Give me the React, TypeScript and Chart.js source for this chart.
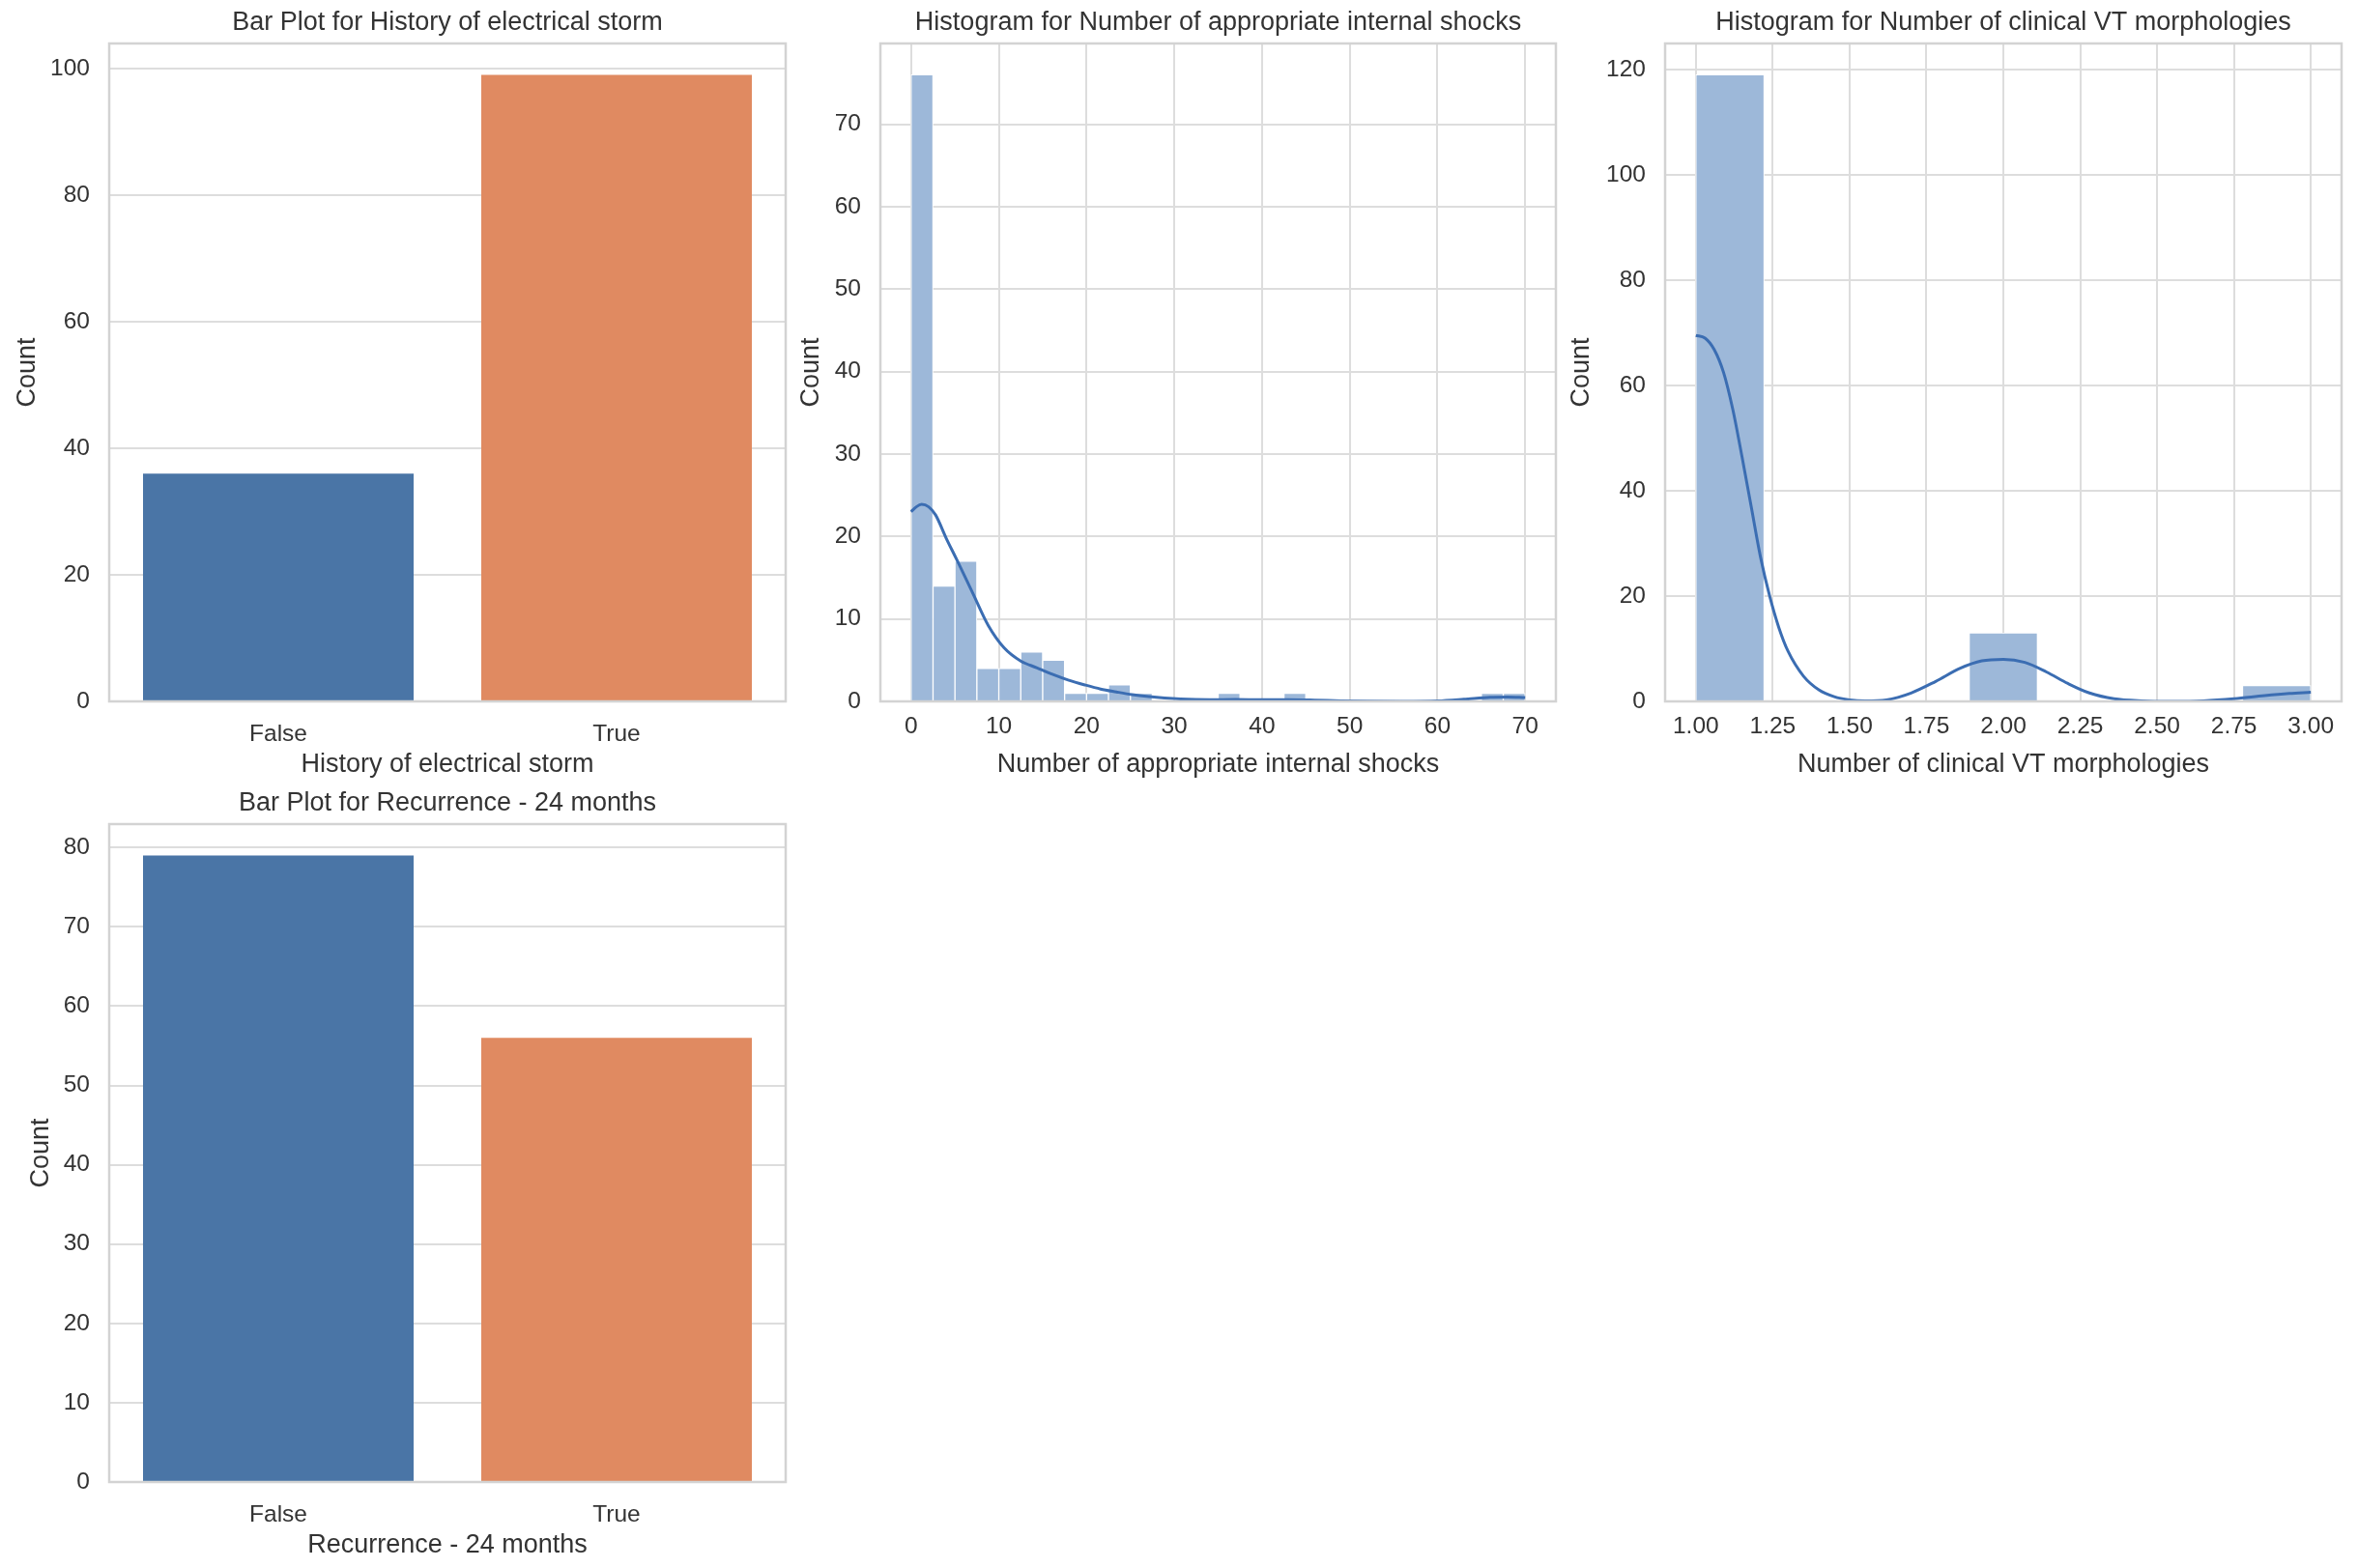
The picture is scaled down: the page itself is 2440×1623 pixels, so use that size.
import { useEffect, useRef } from "react";
import { Chart, registerables } from "chart.js";

Chart.register(...registerables);

// ---------- data ----------

// Bar plot: History of electrical storm
const stormLabels = ["False", "True"];
const stormCounts = [36, 99];
const stormYTicks = [0, 20, 40, 60, 80, 100];

// Bar plot: Recurrence - 24 months
const recurrenceLabels = ["False", "True"];
const recurrenceCounts = [79, 56];
const recurrenceYTicks = [0, 10, 20, 30, 40, 50, 60, 70, 80];

// Histogram: Number of appropriate internal shocks (bins of width 2.5)
const shockBinCenters = [
  1.25, 3.75, 6.25, 8.75, 11.25, 13.75, 16.25, 18.75, 21.25, 23.75, 26.25, 28.75, 31.25, 33.75,
  36.25, 38.75, 41.25, 43.75, 46.25, 48.75, 51.25, 53.75, 56.25, 58.75, 61.25, 63.75, 66.25, 68.75,
];
const shockCounts = [76, 14, 17, 4, 4, 6, 5, 1, 1, 2, 1, 0, 0, 0, 1, 0, 0, 1, 0, 0, 0, 0, 0, 0, 0, 0, 1, 1];
const shockKdeX = [
  0, 0.6, 1.2, 2.0, 2.8, 4.0, 5.2, 7.0, 8.8, 10.6, 12.5, 14.3, 16.1, 17.9, 19.8, 21.6, 23.4, 25.2,
  27.1, 28.9, 30.7, 34.0, 37.0, 40.0, 43.0, 46.0, 49.0, 52.0, 56.0, 60.0, 63.0, 66.0, 68.0, 70.0,
];
const shockKdeY = [
  23.0, 23.6, 23.9, 23.6, 22.6, 19.8, 17.2, 13.2, 9.2, 6.5, 4.9, 4.1, 3.3, 2.6, 2.0, 1.5, 1.15, 0.83,
  0.58, 0.4, 0.28, 0.2, 0.22, 0.2, 0.2, 0.15, 0.07, 0.02, 0.0, 0.05, 0.25, 0.5, 0.53, 0.47,
];
const shockXTicks = [0, 10, 20, 30, 40, 50, 60, 70];
const shockYTicks = [0, 10, 20, 30, 40, 50, 60, 70];
const shockXRange = [-3.5, 73.5];

// Histogram: Number of clinical VT morphologies (9 bins between 1 and 3)
const vtBinCenters = [1.1111, 1.3333, 1.5556, 1.7778, 2.0, 2.2222, 2.4444, 2.6667, 2.8889];
const vtCounts = [119, 0, 0, 0, 13, 0, 0, 0, 3];
const vtKdeX = [
  1.0, 1.03, 1.06, 1.09, 1.12, 1.15, 1.18, 1.21, 1.24, 1.27, 1.3, 1.35, 1.4, 1.45, 1.5, 1.55, 1.62,
  1.7, 1.78, 1.86, 1.93, 2.0, 2.07, 2.14, 2.21, 2.28, 2.36, 2.45, 2.55, 2.65, 2.75, 2.85, 2.93, 3.0,
];
const vtKdeY = [
  69.5, 69.0, 66.8, 62.5, 55.5, 46.5, 37.0, 27.5, 20.0, 14.0, 9.5, 4.8, 2.2, 0.9, 0.3, 0.1, 0.3,
  1.6, 3.8, 6.3, 7.7, 8.0, 7.4, 5.6, 3.4, 1.6, 0.5, 0.1, 0.0, 0.1, 0.5, 1.1, 1.5, 1.75,
];
const vtXTicks = [1.0, 1.25, 1.5, 1.75, 2.0, 2.25, 2.5, 2.75, 3.0];
const vtYTicks = [0, 20, 40, 60, 80, 100, 120];
const vtXRange = [0.9, 3.1];

// ---------- styling ----------

const FONT = '"Liberation Sans", Arial, "DejaVu Sans", sans-serif';
const TEXT = "#333333";
const GRID = "#dddddd";
const FRAME = "#d3d3d3";
const BAR_BLUE = "#4a75a6";
const BAR_ORANGE = "#e08a61";
const HIST_FILL = "rgb(157,184,217)";
const KDE_LINE = "#3b6db2";

const TITLE_SIZE = 27;
const TICK_SIZE = 24.5;
const LINE_HEIGHT = 1.2;

// Canvas placement and plot-frame rectangle [left, top, right, bottom] in page pixels
type Layout = {
  left: number;
  top: number;
  width: number;
  height: number;
  frame: [number, number, number, number];
  yTitleX: number;
};

const LAYOUT: Record<string, Layout> = {
  storm: { left: 0, top: 0, width: 830, height: 820, frame: [113, 45, 813, 726], yTitleX: 29 },
  shocks: { left: 820, top: 0, width: 810, height: 820, frame: [911, 45, 1610, 726], yTitleX: 840 },
  vt: { left: 1620, top: 0, width: 820, height: 820, frame: [1723, 45, 2423, 726], yTitleX: 1637 },
  recurrence: { left: 0, top: 808, width: 830, height: 815, frame: [113, 853, 813, 1534], yTitleX: 42.5 },
};

// distances of text centres from the plot frame
const TITLE_ABOVE_FRAME = 21;
const XTICK_BELOW_FRAME = 26;
const XTITLE_BELOW_FRAME = 66;
const YTICK_PAD = 20;

const framePlugin = {
  id: "axesFrame",
  afterDatasetsDraw(chart: any) {
    const { ctx, chartArea: a } = chart;
    ctx.save();
    ctx.strokeStyle = FRAME;
    ctx.lineWidth = 2.5;
    ctx.strokeRect(a.left, a.top, a.right - a.left, a.bottom - a.top);
    ctx.restore();
  },
};

const tickFont = { family: FONT, size: TICK_SIZE, lineHeight: LINE_HEIGHT };
const labelFont = { family: FONT, size: TITLE_SIZE, weight: "normal" as const, lineHeight: LINE_HEIGHT };

function commonOptions(L: Layout, title: string) {
  const [, ft, fr] = L.frame;
  const titleBlock = ft - L.top;
  const padTop = ft - TITLE_ABOVE_FRAME - L.top - (TITLE_SIZE * LINE_HEIGHT) / 2;
  return {
    responsive: false,
    animation: false as const,
    events: [] as any[],
    layout: { padding: { left: 0, top: 0, right: L.left + L.width - fr, bottom: 0 } },
    plugins: {
      legend: { display: false },
      tooltip: { enabled: false },
      title: {
        display: true,
        text: title,
        fullSize: false,
        color: TEXT,
        font: labelFont,
        padding: { top: padTop, bottom: titleBlock - padTop - TITLE_SIZE * LINE_HEIGHT },
      },
    },
  };
}

function xAxis(L: Layout, text: string, extra: any) {
  const fb = L.frame[3];
  const height = L.top + L.height - fb;
  return {
    title: {
      display: true,
      text,
      color: TEXT,
      font: labelFont,
      padding: { top: 0, bottom: L.top + L.height - (fb + XTITLE_BELOW_FRAME) - (TITLE_SIZE * LINE_HEIGHT) / 2 },
    },
    ticks: {
      color: TEXT,
      font: tickFont,
      padding: XTICK_BELOW_FRAME - (TICK_SIZE * LINE_HEIGHT) / 2,
      maxRotation: 0,
      minRotation: 0,
      autoSkip: false,
      ...(extra.ticks || {}),
    },
    border: { display: false },
    afterFit: (s: any) => {
      s.height = height;
      s.paddingLeft = 0;
      s.paddingRight = 0;
    },
    ...extra.rest,
  };
}

function yAxis(L: Layout, values: number[], max: number) {
  const width = L.frame[0] - L.left;
  return {
    type: "linear" as const,
    min: 0,
    max,
    title: {
      display: true,
      text: "Count",
      color: TEXT,
      font: labelFont,
      padding: { top: L.yTitleX - L.left - (TITLE_SIZE * LINE_HEIGHT) / 2, bottom: 0 },
    },
    ticks: { color: TEXT, font: tickFont, padding: YTICK_PAD, autoSkip: false },
    grid: { color: GRID, lineWidth: 2, drawTicks: false },
    border: { display: false },
    afterBuildTicks: (s: any) => {
      s.ticks = values.map((v) => ({ value: v }));
    },
    afterFit: (s: any) => {
      s.width = width;
      s.paddingTop = 0;
      s.paddingBottom = 0;
    },
  };
}

function countPlotConfig(L: Layout, title: string, xTitle: string, labels: string[], counts: number[], yTicks: number[]) {
  return {
    type: "bar" as const,
    data: {
      labels,
      datasets: [
        {
          data: counts,
          backgroundColor: [BAR_BLUE, BAR_ORANGE],
          borderWidth: 0,
          categoryPercentage: 0.8,
          barPercentage: 1.0,
        },
      ],
    },
    options: {
      ...commonOptions(L, title),
      scales: {
        x: xAxis(L, xTitle, { rest: { grid: { display: false } } }),
        y: yAxis(L, yTicks, Math.max(...counts) * 1.05),
      },
    },
    plugins: [framePlugin],
  };
}

function histogramConfig(
  L: Layout,
  title: string,
  xTitle: string,
  centers: number[],
  counts: number[],
  kdeX: number[],
  kdeY: number[],
  xTicks: number[],
  xRange: number[],
  yTicks: number[],
  tickFormat: (v: number) => string
) {
  return {
    type: "bar" as const,
    data: {
      datasets: [
        {
          type: "line" as const,
          data: kdeX.map((x, i) => ({ x, y: kdeY[i] })),
          borderColor: KDE_LINE,
          borderWidth: 3,
          pointRadius: 0,
          fill: false,
          cubicInterpolationMode: "monotone" as const,
          order: 1,
        },
        {
          type: "bar" as const,
          data: centers.map((x, i) => ({ x, y: counts[i] })),
          backgroundColor: HIST_FILL,
          borderColor: "#ffffff",
          borderWidth: 1,
          categoryPercentage: 1.0,
          barPercentage: 1.0,
          order: 2,
        },
      ],
    },
    options: {
      ...commonOptions(L, title),
      scales: {
        x: xAxis(L, xTitle, {
          ticks: { callback: (v: any) => tickFormat(Number(v)) },
          rest: {
            type: "linear",
            min: xRange[0],
            max: xRange[1],
            offset: false,
            grid: { color: GRID, lineWidth: 2, drawTicks: false, offset: false },
            afterBuildTicks: (s: any) => {
              s.ticks = xTicks.map((v) => ({ value: v }));
            },
          },
        }),
        y: yAxis(L, yTicks, Math.max(...counts) * 1.05),
      },
    },
    plugins: [framePlugin],
  };
}

function Panel({ layout, makeConfig }: { layout: Layout; makeConfig: (L: Layout) => any }) {
  const ref = useRef<HTMLCanvasElement>(null);
  useEffect(() => {
    const chart = new Chart(ref.current as HTMLCanvasElement, makeConfig(layout));
    return () => chart.destroy();
  }, []);
  return (
    <canvas
      ref={ref}
      width={layout.width}
      height={layout.height}
      style={{
        position: "absolute",
        left: layout.left,
        top: layout.top,
        width: layout.width,
        height: layout.height,
      }}
    />
  );
}

export default function App() {
  return (
    <div
      style={{
        position: "absolute",
        left: 0,
        top: 0,
        width: 2440,
        height: 1623,
        background: "#ffffff",
        overflow: "hidden",
      }}
    >
      <Panel
        layout={LAYOUT.storm}
        makeConfig={(L) =>
          countPlotConfig(L, "Bar Plot for History of electrical storm", "History of electrical storm", stormLabels, stormCounts, stormYTicks)
        }
      />
      <Panel
        layout={LAYOUT.shocks}
        makeConfig={(L) =>
          histogramConfig(
            L,
            "Histogram for Number of appropriate internal shocks",
            "Number of appropriate internal shocks",
            shockBinCenters,
            shockCounts,
            shockKdeX,
            shockKdeY,
            shockXTicks,
            shockXRange,
            shockYTicks,
            (v) => String(v)
          )
        }
      />
      <Panel
        layout={LAYOUT.vt}
        makeConfig={(L) =>
          histogramConfig(
            L,
            "Histogram for Number of clinical VT morphologies",
            "Number of clinical VT morphologies",
            vtBinCenters,
            vtCounts,
            vtKdeX,
            vtKdeY,
            vtXTicks,
            vtXRange,
            vtYTicks,
            (v) => v.toFixed(2)
          )
        }
      />
      <Panel
        layout={LAYOUT.recurrence}
        makeConfig={(L) =>
          countPlotConfig(L, "Bar Plot for Recurrence - 24 months", "Recurrence - 24 months", recurrenceLabels, recurrenceCounts, recurrenceYTicks)
        }
      />
    </div>
  );
}
